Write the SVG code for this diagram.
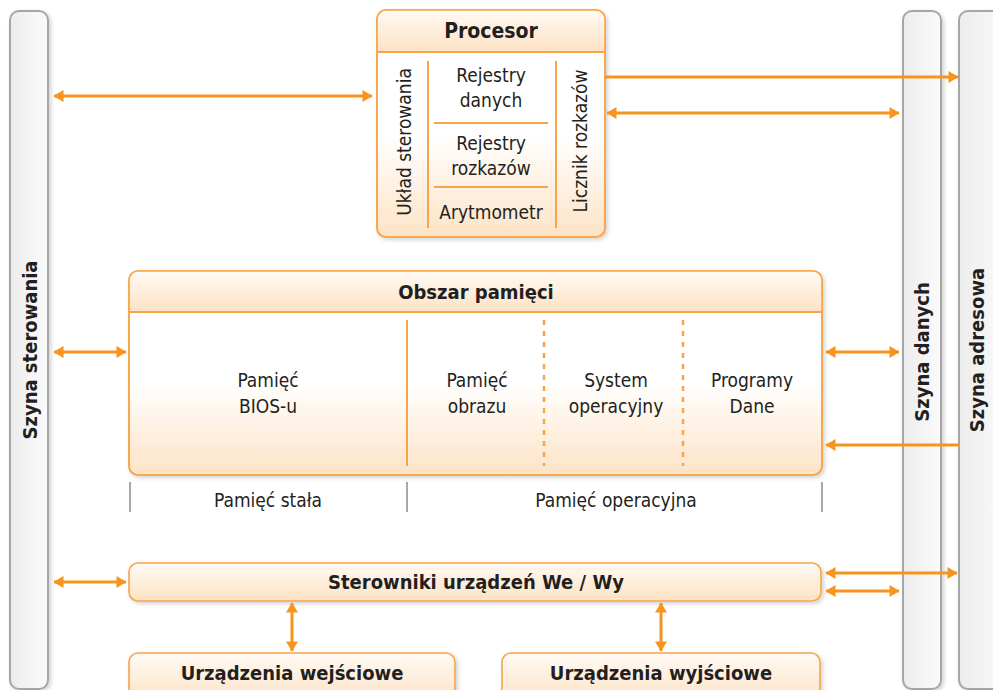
<svg xmlns="http://www.w3.org/2000/svg" width="993" height="690" viewBox="0 0 993 690">
<defs>
<style>
text{font-family:"Liberation Sans Narrow","DejaVu Sans Condensed","Liberation Sans",sans-serif;fill:#231f20;text-anchor:middle}
.t{font-size:19px}
.b{font-size:21px;font-weight:bold}
.h{font-size:20px;font-weight:bold}
.bus{fill:url(#busg);stroke:#a6a6a6;stroke-width:2;filter:url(#sh)}
.box{stroke:#f7a54a;stroke-width:1.6;filter:url(#sh)}
.ln{stroke:#f7a54a;stroke-width:2;fill:none}
.dot{stroke:#f7a54a;stroke-width:2.5;stroke-dasharray:5 6;fill:none}
.tick{stroke:#8c8c8c;stroke-width:1.5}
.arr{stroke:#f7941d;stroke-width:3;fill:none}
</style>
<linearGradient id="busg" x1="0" y1="0" x2="1" y2="0"><stop offset="0" stop-color="#ececec"/><stop offset="1" stop-color="#fbfbfb"/></linearGradient>
<linearGradient id="hg" x1="0" y1="0" x2="0" y2="1"><stop offset="0" stop-color="#fffaf4"/><stop offset="1" stop-color="#fde2c4"/></linearGradient>
<linearGradient id="bg" x1="0" y1="0" x2="0" y2="1"><stop offset="0" stop-color="#ffffff"/><stop offset="0.55" stop-color="#ffffff"/><stop offset="1" stop-color="#fde3c6"/></linearGradient>
<filter id="sh" x="-10%" y="-10%" width="130%" height="130%"><feDropShadow dx="2" dy="2" stdDeviation="2" flood-color="#000" flood-opacity="0.18"/></filter>
<marker id="ah" viewBox="0 0 10 12" refX="9.5" refY="6" markerWidth="3.4" markerHeight="4" orient="auto-start-reverse" markerUnits="strokeWidth"><path d="M0,0 L10,6 L0,12 Z" fill="#f7941d"/></marker>
</defs>
<rect width="993" height="690" fill="#fff"/>

<g id="szyna-sterowania">
<rect class="bus" x="10" y="11" width="38" height="678" rx="9"/>
<text class="h" transform="translate(37,350) rotate(-90)">Szyna sterowania</text>
</g>
<g id="szyna-danych">
<rect class="bus" x="903" y="11" width="38" height="678" rx="9"/>
<text class="h" transform="translate(929,352) rotate(-90)">Szyna danych</text>
</g>
<g id="szyna-adresowa">
<rect class="bus" x="959" y="11" width="50" height="678" rx="9"/>
<text class="h" transform="translate(984,350) rotate(-90)">Szyna adresowa</text>
</g>

<g id="procesor">
<rect class="box" x="377" y="10" width="228" height="227" rx="9" fill="url(#bg)"/>
<path d="M377,52 V19 a9,9 0 0 1 9,-9 H596 a9,9 0 0 1 9,9 V52 Z" fill="url(#hg)"/>
<path d="M377,52 H605" class="ln" stroke-width="1.6"/>
<rect x="377" y="10" width="228" height="227" rx="9" fill="none" stroke="#f7a54a" stroke-width="1.6"/>
<text class="b" x="491" y="38">Procesor</text>
<line class="ln" x1="428" y1="61" x2="428" y2="228"/>
<line class="ln" x1="556" y1="61" x2="556" y2="228"/>
<line class="ln" x1="434" y1="123" x2="548" y2="123"/>
<line class="ln" x1="434" y1="187" x2="548" y2="187"/>
<text class="t" transform="translate(411,142) rotate(-90)">Układ sterowania</text>
<text class="t" transform="translate(587,141) rotate(-90)">Licznik rozkazów</text>
<text class="t" x="491" y="82">Rejestry</text>
<text class="t" x="491" y="107">danych</text>
<text class="t" x="491" y="150">Rejestry</text>
<text class="t" x="491" y="175">rozkazów</text>
<text class="t" x="491" y="219">Arytmometr</text>
</g>

<g id="obszar-pamieci">
<rect class="box" x="129" y="271" width="693" height="204" rx="9" fill="url(#bg)"/>
<path d="M129,312 V280 a9,9 0 0 1 9,-9 H813 a9,9 0 0 1 9,9 V312 Z" fill="url(#hg)"/>
<path d="M129,312 H822" class="ln" stroke-width="1.6"/>
<rect x="129" y="271" width="693" height="204" rx="9" fill="none" stroke="#f7a54a" stroke-width="1.6"/>
<text class="h" x="476" y="299">Obszar pamięci</text>
<line class="ln" x1="407" y1="320" x2="407" y2="466"/>
<line class="dot" x1="544" y1="320" x2="544" y2="466"/>
<line class="dot" x1="683" y1="320" x2="683" y2="466"/>
<text class="t" x="268" y="387">Pamięć</text>
<text class="t" x="268" y="413">BIOS-u</text>
<text class="t" x="477" y="387">Pamięć</text>
<text class="t" x="477" y="413">obrazu</text>
<text class="t" x="616" y="387">System</text>
<text class="t" x="616" y="413">operacyjny</text>
<text class="t" x="752" y="387">Programy</text>
<text class="t" x="752" y="413">Dane</text>
</g>

<g id="podzial-pamieci">
<line class="tick" x1="130" y1="482" x2="130" y2="512"/>
<line class="tick" x1="407" y1="482" x2="407" y2="512"/>
<line class="tick" x1="822" y1="482" x2="822" y2="512"/>
<text class="t" x="268" y="507">Pamięć stała</text>
<text class="t" x="616" y="507">Pamięć operacyjna</text>
</g>

<g id="sterowniki">
<rect class="box" x="129" y="563" width="692" height="38" rx="9" fill="url(#hg)"/>
<text class="h" x="476" y="589">Sterowniki urządzeń We / Wy</text>
</g>
<g id="urzadzenia-wejsciowe">
<rect class="box" x="129" y="653" width="326" height="50" rx="9" fill="url(#hg)"/>
<text class="h" x="292" y="680">Urządzenia wejściowe</text>
</g>
<g id="urzadzenia-wyjsciowe">
<rect class="box" x="502" y="653" width="318" height="50" rx="9" fill="url(#hg)"/>
<text class="h" x="661" y="680">Urządzenia wyjściowe</text>
</g>

<g id="connectors">
<line class="arr" x1="54" y1="96" x2="372" y2="96" marker-start="url(#ah)" marker-end="url(#ah)"/>
<line class="arr" x1="605" y1="77" x2="958" y2="77" marker-end="url(#ah)"/>
<line class="arr" x1="607" y1="113" x2="899" y2="113" marker-start="url(#ah)" marker-end="url(#ah)"/>
<line class="arr" x1="54" y1="352" x2="126" y2="352" marker-start="url(#ah)" marker-end="url(#ah)"/>
<line class="arr" x1="826" y1="352" x2="899" y2="352" marker-start="url(#ah)" marker-end="url(#ah)"/>
<line class="arr" x1="959" y1="445" x2="826" y2="445" marker-end="url(#ah)"/>
<line class="arr" x1="54" y1="582" x2="126" y2="582" marker-start="url(#ah)" marker-end="url(#ah)"/>
<line class="arr" x1="826" y1="573" x2="957" y2="573" marker-start="url(#ah)" marker-end="url(#ah)"/>
<line class="arr" x1="826" y1="591" x2="899" y2="591" marker-start="url(#ah)" marker-end="url(#ah)"/>
<line class="arr" x1="292" y1="603" x2="292" y2="651" marker-start="url(#ah)" marker-end="url(#ah)"/>
<line class="arr" x1="661" y1="603" x2="661" y2="651" marker-start="url(#ah)" marker-end="url(#ah)"/>
</g>
</svg>
